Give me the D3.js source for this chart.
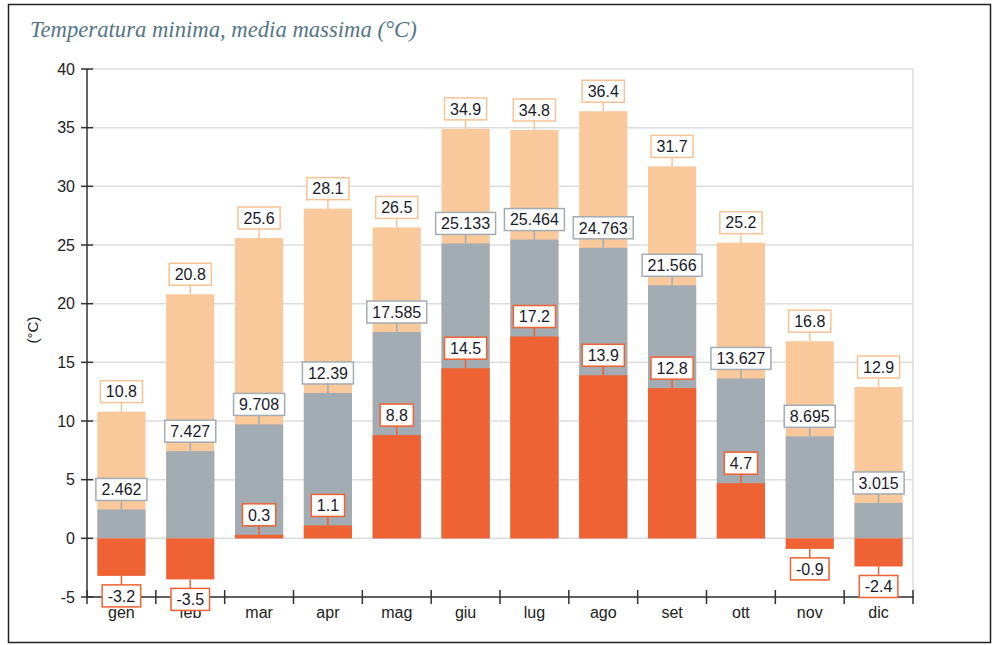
<!DOCTYPE html>
<html><head><meta charset="utf-8">
<script src="https://cdn.jsdelivr.net/npm/d3@7/dist/d3.min.js"></script>
<style>
html,body{margin:0;padding:0;background:#fff;}
svg{display:block;}
</style></head>
<body>
<svg id="chart" width="996" height="645"></svg>
<script>
const months = ["gen","feb","mar","apr","mag","giu","lug","ago","set","ott","nov","dic"];
const maxValues = [10.8, 20.8, 25.6, 28.1, 26.5, 34.9, 34.8, 36.4, 31.7, 25.2, 16.8, 12.9];
const meanValues = [2.462, 7.427, 9.708, 12.39, 17.585, 25.133, 25.464, 24.763, 21.566, 13.627, 8.695, 3.015];
const minValues = [-3.2, -3.5, 0.3, 1.1, 8.8, 14.5, 17.2, 13.9, 12.8, 4.7, -0.9, -2.4];
const yTicks = [-5, 0, 5, 10, 15, 20, 25, 30, 35, 40];

const series = [
  {name:"max", values:maxValues, fill:"#fac99b", stroke:"#f9c294"},
  {name:"media", values:meanValues, fill:"#a3abb3", stroke:"#a3abb3"},
  {name:"min", values:minValues, fill:"#ee6233", stroke:"#ee6233"}
];

const svg = d3.select("#chart");
const mLeft = 87, mRight = 913, mTop = 69, mBottom = 597;

// border
svg.append("rect").attr("x",8.5).attr("y",4.5).attr("width",982).attr("height",638)
  .attr("fill","#fff").attr("stroke","#222").attr("stroke-width",1.5);

// title
const title = svg.append("text").attr("x",30).attr("y",37)
  .attr("font-family","'Liberation Serif','DejaVu Serif',serif").attr("font-style","italic")
  .attr("font-size",20).attr("fill","#557587").text("Temperatura minima, media massima (°C)");
const tw = title.node().getComputedTextLength();
title.attr("font-size", 20*387/tw);

const x = d3.scaleBand().domain(months).range([mLeft,mRight]).paddingInner(0.3).paddingOuter(0.15);
const y = d3.scaleLinear().domain([-5,40]).range([mBottom, mTop]);

// gridlines
svg.append("g").selectAll("line").data(yTicks).join("line")
  .attr("x1",mLeft).attr("x2",mRight).attr("y1",d=>y(d)).attr("y2",d=>y(d))
  .attr("stroke","#dcdcdc").attr("stroke-width",1.5);
svg.append("line").attr("x1",mRight).attr("x2",mRight).attr("y1",y(40)).attr("y2",y(-5))
  .attr("stroke","#dcdcdc").attr("stroke-width",1.5);

// bars
series.forEach(s=>{
  svg.append("g").selectAll("rect").data(s.values).join("rect")
    .attr("x",(d,i)=>x(months[i]))
    .attr("width",x.bandwidth())
    .attr("y",d=>Math.min(y(d),y(0)))
    .attr("height",d=>Math.abs(y(d)-y(0)))
    .attr("fill",s.fill);
});

// axes
const ax = svg.append("g").attr("stroke","#333").attr("stroke-width",1.5);
ax.append("line").attr("x1",mLeft).attr("x2",mLeft).attr("y1",y(40)).attr("y2",mBottom+1);
ax.append("line").attr("x1",mLeft-1).attr("x2",mRight+1).attr("y1",mBottom).attr("y2",mBottom);
ax.selectAll(".yt").data(yTicks).join("line").attr("class","yt")
  .attr("x1",mLeft-6).attr("x2",mLeft+6).attr("y1",d=>y(d)).attr("y2",d=>y(d));
const bounds = d3.range(months.length+1).map(i=> i===0 ? mLeft : (i===months.length ? mRight : x(months[i]) - x.step()*x.paddingInner()/2));
ax.selectAll(".xt").data(bounds).join("line").attr("class","xt")
  .attr("x1",d=>d).attr("x2",d=>d).attr("y1",mBottom-7).attr("y2",mBottom+7);

svg.append("g").selectAll("text").data(yTicks).join("text")
  .attr("x",mLeft-12).attr("y",d=>y(d)).attr("dy","0.35em").attr("text-anchor","end")
  .attr("font-family","'Liberation Sans',Arial,sans-serif").attr("font-size",16).attr("fill","#222")
  .text(d=>d);
svg.append("g").selectAll("text").data(months).join("text")
  .attr("x",d=>x(d)+x.bandwidth()/2).attr("y",618).attr("text-anchor","middle")
  .attr("font-family","'Liberation Sans',Arial,sans-serif").attr("font-size",16).attr("fill","#222")
  .text(d=>d);
svg.append("text").attr("transform","translate(38,330) rotate(-90)").attr("text-anchor","middle")
  .attr("font-family","'Liberation Sans',Arial,sans-serif").attr("font-size",15).attr("fill","#222")
  .text("(°C)");

// labels
const gap = 9, bh = 22, pad = 5.5;
series.forEach(s=>{
  const g = svg.append("g");
  s.values.forEach((v,i)=>{
    const cx = x(months[i]) + x.bandwidth()/2;
    const vy = y(v);
    const neg = v < 0;
    const lg = g.append("g");
    const t = lg.append("text").attr("x",cx).attr("text-anchor","middle")
      .attr("font-family","'Liberation Sans',Arial,sans-serif").attr("font-size",16).attr("fill","#1a1a2a")
      .text(String(v));
    const w = t.node().getComputedTextLength() + pad*2;
    const by = neg ? vy + gap : vy - gap - bh;
    lg.insert("line","text").attr("x1",cx).attr("x2",cx)
      .attr("y1",vy).attr("y2",neg ? vy+gap : vy-gap)
      .attr("stroke",s.stroke).attr("stroke-width",1.5);
    lg.insert("rect","text").attr("x",cx-w/2).attr("y",by).attr("width",w).attr("height",bh)
      .attr("fill","#fff").attr("stroke",s.stroke).attr("stroke-width",1.5);
    t.attr("y",by+bh/2).attr("dy","0.36em");
  });
});
</script>
</body></html>
